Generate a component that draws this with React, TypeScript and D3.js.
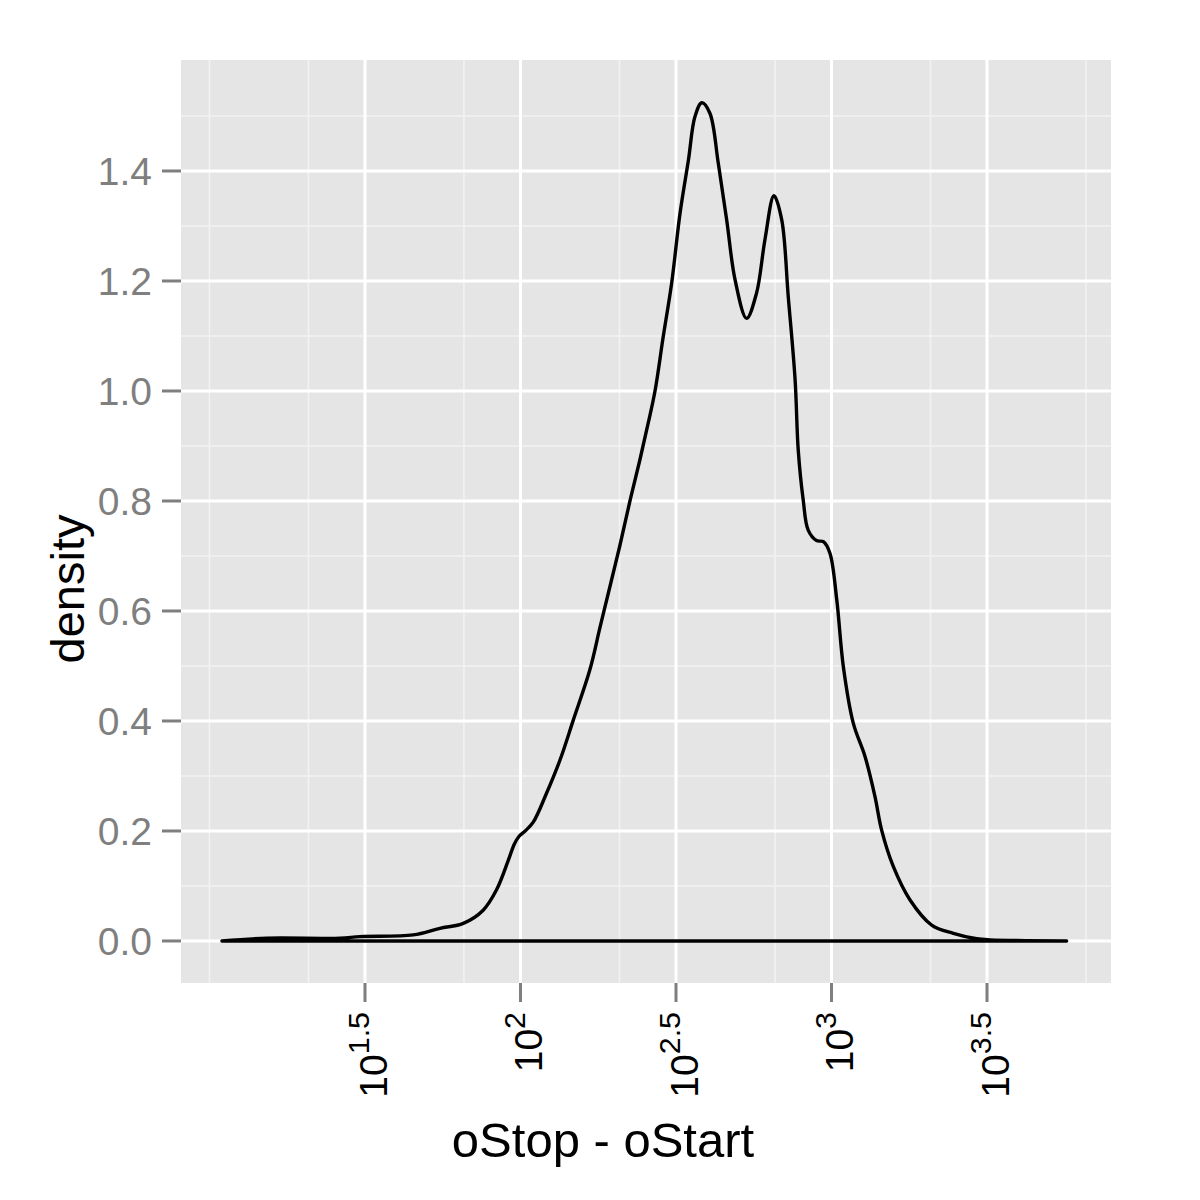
import React from "react";
import * as d3 from "d3";

// log10(oStop - oStart) exponents and density values
const logLength = [
  1.04, 1.184, 1.42, 1.484, 1.655, 1.741, 1.816, 1.88, 1.923, 1.961, 1.98, 1.995, 2.015, 2.041,
  2.084, 2.127, 2.17, 2.223, 2.256, 2.29, 2.32, 2.352, 2.384, 2.41, 2.4325, 2.459, 2.486, 2.513,
  2.54, 2.561, 2.583, 2.609, 2.636, 2.663, 2.69, 2.727, 2.759, 2.786, 2.815, 2.84, 2.861,
  2.883, 2.893, 2.909, 2.925, 2.952, 2.974, 2.995, 3.017, 3.038, 3.07, 3.108, 3.14, 3.161,
  3.199, 3.252, 3.322, 3.392, 3.467, 3.51, 3.756,
];
const density = [
  0.0, 0.005, 0.005, 0.008, 0.011, 0.023, 0.032, 0.056, 0.093, 0.147, 0.176, 0.19, 0.2, 0.216,
  0.269, 0.329, 0.402, 0.493, 0.571, 0.65, 0.72, 0.8, 0.875, 0.94, 1.0, 1.099, 1.196, 1.323,
  1.42, 1.499, 1.524, 1.505, 1.414, 1.311, 1.202, 1.132, 1.178, 1.275, 1.355, 1.311, 1.171,
  1.02, 0.893, 0.802, 0.747, 0.728, 0.726, 0.705, 0.62, 0.499, 0.396, 0.335, 0.262, 0.202,
  0.135, 0.075, 0.029, 0.014, 0.004, 0.002, 0.0,
];

const xMajorExp = [1.5, 2, 2.5, 3, 3.5];
const xMajorLabelsBase = ["10", "10", "10", "10", "10"];
const xMajorLabelsSup = ["1.5", "2", "2.5", "3", "3.5"];
const xMinorValues = [10, 20.8, 65.8, 208.1, 658.1, 2081, 6581];
const yMajor = [0, 0.2, 0.4, 0.6, 0.8, 1.0, 1.2, 1.4];
const yMajorLabels = ["0.0", "0.2", "0.4", "0.6", "0.8", "1.0", "1.2", "1.4"];
const yMinor = [0.1, 0.3, 0.5, 0.7, 0.9, 1.1, 1.3, 1.5];

const xTitle = "oStop - oStart";
const yTitle = "density";

export default function App() {
  const W = 1200, H = 1200;
  const pL = 181, pR = 1111, pT = 60, pB = 983;

  const x = d3.scaleLog().domain([Math.pow(10, 0.9084), Math.pow(10, 3.8987)]).range([pL, pR]);
  const y = d3.scaleLinear().domain([-0.0764, 1.6018]).range([pB, pT]);

  const pts = logLength.map((e, i) => ({ v: Math.pow(10, e), d: density[i] }));
  const area = d3
    .area<{ v: number; d: number }>()
    .x((p) => x(p.v))
    .y0(() => y(0))
    .y1((p) => y(Math.max(0, p.d)))
    .curve(d3.curveCatmullRom.alpha(0.5));

  const font = "'Liberation Sans', Arial, Helvetica, sans-serif";
  const tickFs = 39;

  return (
    <svg width={W} height={H} style={{ display: "block", position: "absolute", left: 0, top: 0 }}>
      <rect x={0} y={0} width={W} height={H} fill="#ffffff" />
      <rect x={pL} y={pT} width={pR - pL} height={pB - pT} fill="#E5E5E5" />
      {/* minor grid */}
      {xMinorValues.map((v, i) => (
        <line key={"xm" + i} x1={x(v)} x2={x(v)} y1={pT} y2={pB} stroke="#F2F2F2" strokeWidth={1.6} />
      ))}
      {yMinor.map((v, i) => (
        <line key={"ym" + i} x1={pL} x2={pR} y1={y(v)} y2={y(v)} stroke="#F2F2F2" strokeWidth={1.6} />
      ))}
      {/* major grid */}
      {xMajorExp.map((e, i) => (
        <line key={"xM" + i} x1={x(Math.pow(10, e))} x2={x(Math.pow(10, e))} y1={pT} y2={pB} stroke="#ffffff" strokeWidth={3} />
      ))}
      {yMajor.map((v, i) => (
        <line key={"yM" + i} x1={pL} x2={pR} y1={y(v)} y2={y(v)} stroke="#ffffff" strokeWidth={3} />
      ))}
      {/* density outline */}
      <path d={area(pts) || ""} fill="none" stroke="#000000" strokeWidth={3.4} strokeLinejoin="round" strokeLinecap="round" />
      {/* y axis */}
      {yMajor.map((v, i) => (
        <g key={"yt" + i}>
          <line x1={pL - 19} x2={pL} y1={y(v)} y2={y(v)} stroke="#7F7F7F" strokeWidth={3} />
          <text x={pL - 29} y={y(v)} dy="0.36em" textAnchor="end" fontFamily={font} fontSize={tickFs} fill="#7F7F7F">
            {yMajorLabels[i]}
          </text>
        </g>
      ))}
      {/* x axis */}
      {xMajorExp.map((e, i) => {
        const px = x(Math.pow(10, e));
        return (
          <g key={"xt" + i}>
            <line x1={px} x2={px} y1={pB} y2={pB + 19} stroke="#7F7F7F" strokeWidth={3} />
            <text
              transform={`translate(${px + 22},${pB + 29}) rotate(-90)`}
              textAnchor="end"
              fontFamily={font}
              fontSize={tickFs}
              fill="#000000"
            >
              <tspan>{xMajorLabelsBase[i]}</tspan>
              <tspan fontSize={tickFs * 0.78} dy={-tickFs * 0.45}>{xMajorLabelsSup[i]}</tspan>
            </text>
          </g>
        );
      })}
      {/* titles */}
      <text x={603} y={1157} textAnchor="middle" fontFamily={font} fontSize={49} fill="#000000">
        {xTitle}
      </text>
      <text transform={`translate(84,589) rotate(-90)`} textAnchor="middle" fontFamily={font} fontSize={47} fill="#000000">
        {yTitle}
      </text>
    </svg>
  );
}
